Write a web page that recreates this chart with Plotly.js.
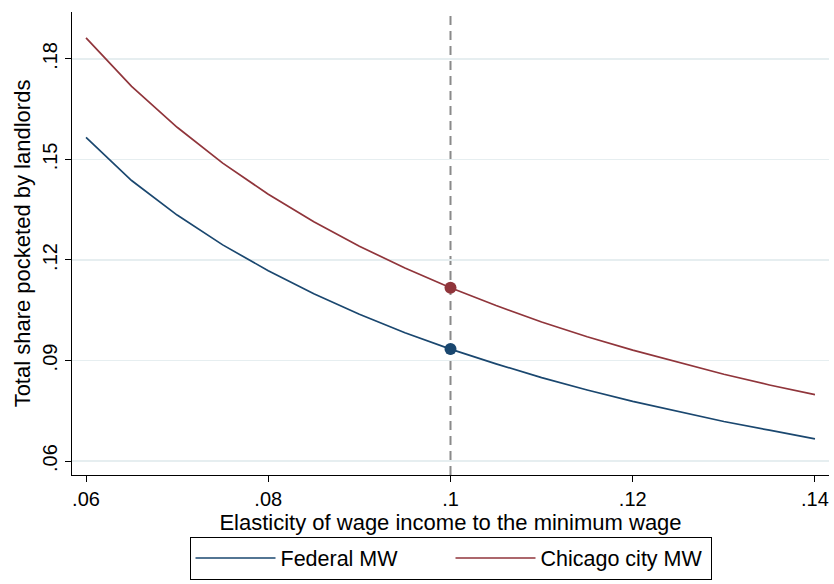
<!DOCTYPE html>
<html>
<head>
<meta charset="utf-8">
<script src="https://cdn.plot.ly/plotly-3.0.1.min.js"></script>
<style>html,body{margin:0;padding:0;background:#fff;}#chart{width:834px;height:584px;}</style>
</head>
<body>
<div id="chart"></div>
<script>
const elasticity = [0.06, 0.065, 0.07, 0.075, 0.08, 0.085, 0.09, 0.095, 0.10, 0.105, 0.11, 0.115, 0.12, 0.125, 0.13, 0.135, 0.14];
const federalShare = [0.1566, 0.1437, 0.1334, 0.1245, 0.1168, 0.1099, 0.1038, 0.0983, 0.0934, 0.0890, 0.0849, 0.0812, 0.0778, 0.0747, 0.0718, 0.0692, 0.0666];
const chicagoShare = [0.1863, 0.1718, 0.1596, 0.1489, 0.1396, 0.1314, 0.1241, 0.1176, 0.1117, 0.1064, 0.1015, 0.0971, 0.0931, 0.0894, 0.0859, 0.0827, 0.0798];
const markerX = [0.10];
const federalMarker = [0.0934];
const chicagoMarker = [0.1117];
const refLineX = 0.10;
const xTickVals = [0.06, 0.08, 0.10, 0.12, 0.14];
const xTickText = ['.06', '.08', '.1', '.12', '.14'];
const yTickVals = [0.06, 0.09, 0.12, 0.15, 0.18];
const yTickText = ['.06', '.09', '.12', '.15', '.18'];
const seriesNames = ['Federal MW', 'Chicago city MW'];

const navy = '#1a476f';
const maroon = '#90353b';
const font = 'Liberation Sans, Arial, sans-serif';

const traces = [
  {x: elasticity, y: federalShare, mode: 'lines', name: seriesNames[0], line: {color: navy, width: 1.7}},
  {x: elasticity, y: chicagoShare, mode: 'lines', name: seriesNames[1], line: {color: maroon, width: 1.7}},
  {x: markerX, y: federalMarker, mode: 'markers', showlegend: false, marker: {color: navy, size: 12}},
  {x: markerX, y: chicagoMarker, mode: 'markers', showlegend: false, marker: {color: maroon, size: 12}}
];

const layout = {
  width: 834, height: 584,
  margin: {l: 72, r: 5, t: 12, b: 107},
  paper_bgcolor: '#fff', plot_bgcolor: '#fff',
  font: {family: font, size: 20, color: '#000'},
  showlegend: true,
  legend: {
    orientation: 'h', x: 0.5, xanchor: 'center', y: -0.2258, yanchor: 'bottom',
    bordercolor: '#000', borderwidth: 1, font: {family: font, size: 21.5, color: '#000'},
    itemwidth: 80, entrywidth: 165, entrywidthmode: 'pixels'
  },
  xaxis: {
    range: [0.05846, 0.14154],
    tickvals: xTickVals, ticktext: xTickText,
    showgrid: false, zeroline: false,
    showline: true, linecolor: '#000', linewidth: 1.3,
    ticks: 'outside', ticklen: 6, tickcolor: '#000',
    tickfont: {family: font, size: 20},
    automargin: false,
    title: {text: 'Elasticity of wage income to the minimum wage', font: {family: font, size: 22}, standoff: 2}
  },
  yaxis: {
    range: [0.05583, 0.194],
    tickvals: yTickVals, ticktext: yTickText, tickangle: -90,
    showgrid: true, gridcolor: '#e6eef0', gridwidth: 1.2, zeroline: false,
    showline: true, linecolor: '#000', linewidth: 1.3,
    ticks: 'outside', ticklen: 6, tickcolor: '#000',
    tickfont: {family: font, size: 20},
    automargin: false,
    title: {text: 'Total share pocketed by landlords', font: {family: font, size: 22}, standoff: 2}
  },
  shapes: [
    {type: 'line', xref: 'x', yref: 'paper', x0: refLineX, x1: refLineX, y0: 0, y1: 1,
     line: {color: '#8a8a8a', width: 2, dash: '9px,6px'}, layer: 'below'}
  ]
};

Plotly.newPlot('chart', traces, layout, {displayModeBar: false, staticPlot: true});
</script>
</body>
</html>
